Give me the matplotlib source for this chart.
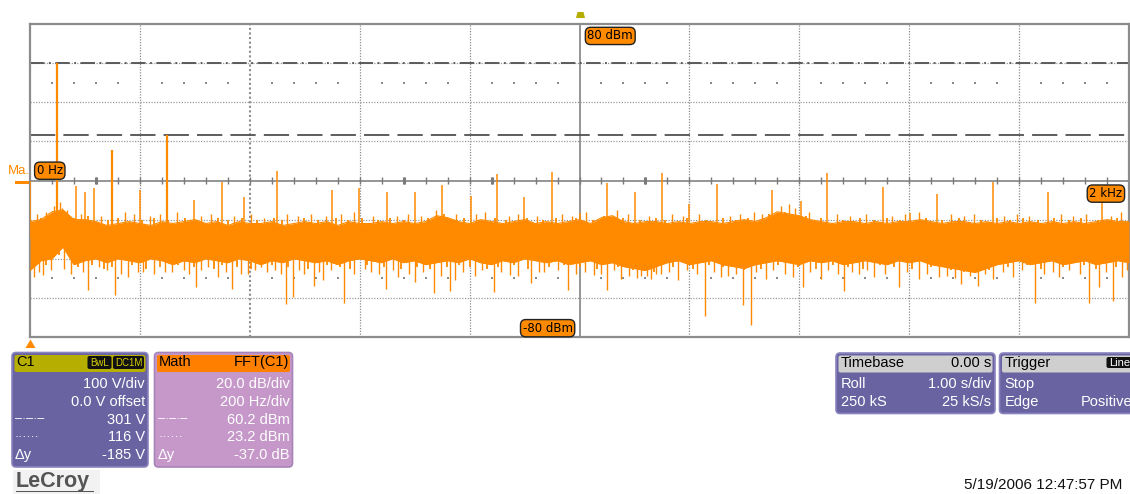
import matplotlib
matplotlib.use("Agg")
import numpy as np
import matplotlib.pyplot as plt
from matplotlib.patches import FancyBboxPatch, Rectangle, Polygon

plt.rcParams["font.family"] = ["Liberation Sans", "DejaVu Sans"]

W, H = 1130, 494
ORANGE = "#ff8a00"

# spectral lines of the FFT(C1) trace: frequency (Hz) and level (dBm)
line_freq = [0, 50, 84, 100, 116, 150, 200, 250, 298, 350, 389, 450, 549, 598,
             650, 700, 750, 802, 850, 899, 950, 1000, 1050, 1101, 1151, 1200,
             1250, 1350, 1403, 1451, 1552, 1601, 1650, 1753, 1852, 1951]
line_dbm = [0, 60.2, -3, -6, -4, 15.6, -5, 23.2, -10, -1, -8.5, 5, -5, -4,
            -6, -6, -2.5, -8, 3.3, -8.5, 4.5, -16.5, -1.5, -6, 3.6, -12,
            -2, -4.7, -10.4, 3.6, -3.5, -16.5, -7, -1, -6, -10]

# noise floor, upper and lower edge every 20 Hz
floor_freq = list(range(0, 2001, 20))
floor_hi = [-21, -20, -16, -15, -20, -20, -21, -23, -22, -21,
            -22, -23, -21, -22, -21, -20, -22, -21, -23, -21,
            -22, -22, -21, -23, -22, -21, -22, -21, -23, -21,
            -22, -22, -21, -22, -21, -22, -21, -18, -19, -21,
            -22, -20, -21, -22, -21, -20, -22, -21, -22, -21,
            -20, -22, -19, -18, -21, -22, -21, -21, -22, -21,
            -22, -21, -21, -22, -21, -20, -21, -19, -16, -17,
            -18, -20, -21, -22, -21, -21, -22, -21, -22, -21,
            -21, -20, -21, -22, -21, -21, -22, -21, -22, -21,
            -22, -21, -22, -21, -22, -21, -22, -21, -20, -21, -21]
floor_lo = [-46, -41, -40, -34, -43, -41, -40, -42, -40, -41,
            -42, -40, -41, -43, -41, -42, -40, -41, -42, -40,
            -41, -43, -41, -42, -40, -41, -42, -41, -43, -41,
            -40, -41, -42, -40, -42, -41, -43, -42, -41, -42,
            -40, -42, -43, -41, -42, -40, -41, -42, -41, -43,
            -42, -41, -43, -42, -44, -45, -46, -44, -42, -41,
            -43, -42, -41, -43, -44, -45, -43, -42, -41, -42,
            -43, -41, -42, -41, -43, -42, -41, -42, -43, -41,
            -42, -41, -43, -44, -45, -46, -47, -45, -43, -42,
            -41, -43, -42, -41, -43, -42, -41, -43, -42, -41, -42]

# deep dips below the floor
dip_freq = [8, 24, 75, 106, 125, 155, 178, 206, 245, 281,
            302, 324, 342, 367, 384, 421, 445, 466, 479, 499,
            516, 533, 572, 609, 648, 670, 700, 736, 764, 773,
            809, 844, 873, 912, 936, 979, 994, 1027, 1050, 1076,
            1112, 1130, 1149, 1179, 1229, 1258, 1297, 1312, 1339, 1388,
            1406, 1439, 1482, 1509, 1536, 1581, 1618, 1655, 1694, 1726,
            1752, 1788, 1829, 1873, 1927, 1946, 1971, 1988]
dip_dbm = [-49.3, -48.4, -47.6, -56.1, -44.2, -58.7, -49.3, -46.7, -46.7, -45.9,
           -54.4, -44.2, -49.3, -55.3, -47.6, -44.2, -45.9, -63.3, -59.5, -47.6,
           -54.1, -51.0, -62.6, -45.0, -55.3, -49.3, -51.8, -57.5, -56.4, -51.0,
           -48.9, -57.0, -48.4, -52.4, -46.7, -55.8, -47.9, -48.4, -55.8, -50.1,
           -48.9, -50.1, -47.6, -51.0, -69.4, -49.3, -63.8, -74.0, -50.1, -49.3,
           -54.4, -50.1, -56.4, -47.6, -49.3, -54.4, -50.1, -49.3, -52.7, -54.1,
           -50.1, -49.3, -62.6, -49.3, -62.6, -54.4, -61.6, -49.3]

# shallower dips
low_freq = [16, 38, 62, 96, 140, 166, 196, 226, 258, 290, 312, 356, 396, 410,
            432, 456, 490, 526, 548, 590, 620, 636, 660, 690, 716, 748, 788,
            822, 858, 888, 926, 960, 1010, 1040, 1062, 1090, 1104, 1122, 1140,
            1162, 1196, 1214, 1244, 1270, 1284, 1322, 1352, 1374, 1420, 1452,
            1470, 1496, 1524, 1556, 1596, 1632, 1668, 1684, 1710, 1738, 1770,
            1806, 1846, 1862, 1890, 1910, 1958, 1996]
low_dbm = [-47, -46, -45, -47, -46, -48, -47, -48, -47, -48, -46, -47, -48, -46,
           -47, -48, -46, -47, -46, -48, -47, -48, -46, -48, -47, -49, -47,
           -46, -47, -49, -47, -46, -47, -48, -46, -49, -50, -49, -48,
           -47, -46, -48, -47, -49, -48, -47, -46, -48, -47, -46,
           -48, -47, -46, -48, -47, -48, -49, -50, -49, -48, -47,
           -46, -48, -47, -46, -48, -47, -46]

# ragged lower edge of the floor
edge_lo_freq = [4, 30, 52, 88, 112, 134, 150, 186, 212, 236, 270, 298, 334,
                350, 376, 402, 440, 470, 506, 540, 564, 582, 614, 644, 676,
                704, 728, 758, 780, 800, 832, 852, 880, 906, 944, 972, 1000,
                1032, 1070, 1098, 1136, 1170, 1206, 1236, 1262, 1300, 1330,
                1362, 1398, 1430, 1462, 1488, 1516, 1546, 1572, 1606, 1640,
                1676, 1700, 1746, 1780, 1814, 1840, 1880, 1918, 1940, 1976]
edge_lo_dbm = [-44, -43, -38, -44, -43, -45, -44, -43, -45, -44, -43, -44, -45,
               -43, -44, -45, -43, -44, -45, -43, -44, -45, -43, -44, -45,
               -44, -45, -44, -43, -44, -45, -44, -43, -45, -44, -43, -44,
               -45, -44, -46, -47, -44, -45, -43, -44, -46, -45,
               -43, -44, -45, -43, -44, -45, -43, -44, -45, -44,
               -46, -47, -46, -44, -43, -45, -44, -43, -45, -44]

# small peaks above the floor
bump_freq = [12, 30, 44, 54, 58, 68, 92, 130, 172, 190, 218, 236, 268, 312,
             330, 372, 402, 426, 468, 488, 512, 538, 566, 590, 624, 668, 688,
             712, 738, 776, 812, 828, 872, 888, 922, 968, 986, 1012, 1068,
             1088, 1126, 1168, 1188, 1218, 1274, 1292, 1318, 1332, 1366, 1382,
             1392, 1418, 1468, 1492, 1522, 1568, 1592, 1618, 1676, 1700, 1718,
             1772, 1796, 1818, 1876, 1898, 1922, 1968, 1986]
bump_dbm = [-17, -16, -13, -11, -14, -15, -17, -18, -16, -17, -18, -17, -16, -18,
            -17, -18, -17, -19, -17, -18, -17, -18, -17, -16, -18, -18, -17,
            -18, -15, -17, -17, -16, -18, -17, -18, -17, -18, -16, -15,
            -17, -18, -17, -18, -17, -18, -17, -16, -17, -13, -12,
            -14, -16, -17, -18, -17, -18, -17, -16, -17, -18, -17,
            -18, -17, -18, -17, -18, -17, -18, -16]

# ragged upper edge of the floor
edge_hi_freq = [20, 80, 106, 142, 160, 204, 226, 252, 282, 304, 342, 360, 386,
                414, 444, 458, 498, 524, 556, 578, 604, 634, 656, 680, 724,
                754, 790, 818, 846, 866, 904, 934, 958, 994, 1024, 1044, 1080,
                1110, 1140, 1156, 1196, 1230, 1262, 1284, 1306, 1344, 1374,
                1412, 1440, 1480, 1510, 1536, 1560, 1584, 1630, 1660, 1690,
                1730, 1760, 1784, 1808, 1834, 1864, 1890, 1912, 1944, 1978]
edge_hi_dbm = [-19, -19, -18, -20, -19, -20, -19, -20, -19, -20, -19, -20, -19,
               -20, -19, -20, -19, -20, -19, -20, -19, -20, -19, -20, -19,
               -17, -19, -20, -19, -20, -19, -20, -19, -19, -20, -18, -19,
               -20, -19, -20, -19, -20, -19, -20, -19, -17, -16,
               -18, -19, -20, -19, -20, -19, -20, -19, -20, -19,
               -20, -19, -20, -19, -20, -19, -20, -19, -20, -19]

cursor_dashdot = 60.2
cursor_dashed = 23.2
minor_ticks = list(range(40, 2000, 40))
heavy_ticks = [120, 680, 840, 1120]

fig = plt.figure(figsize=(W / 100, H / 100), dpi=100)
fig.patch.set_facecolor("white")

ax = fig.add_axes([30 / W, (H - 337) / H, 1099 / W, 313 / H])
ax.set_xlim(0, 2000)
ax.set_ylim(-80, 80)
ax.set_xticks([])
ax.set_yticks([])
for s in ax.spines.values():
    s.set_color("#8c8c8c")
    s.set_linewidth(1.6)

# graticule
for f in range(200, 2000, 200):
    if f == 1000:
        ax.axvline(f, color="#8c8c8c", lw=1.3, zorder=1)
    else:
        ax.axvline(f, color="#8c8c8c", lw=1.5 if f == 400 else 0.9,
                   ls=(0, (1, 1.2)), zorder=1)
for d in (-60, -40, -20, 20, 40, 60):
    ax.axhline(d, color="#9a9a9a", lw=0.9, ls=(0, (1, 1.2)), zorder=1)
ax.axhline(0, color="#8c8c8c", lw=1.3, zorder=1)
ax.vlines(minor_ticks, -1.6, 1.6, color="#7a7a7a", lw=1.0, zorder=1)
ax.vlines(heavy_ticks, -1.8, 1.8, color="#7a7a7a", lw=2.2, zorder=1)
dot_x = [f for f in minor_ticks if f % 200]
for d in (50, -50):
    ax.scatter(dot_x, [d] * len(dot_x), s=1.2, marker="s", color="#8a8a8a",
               lw=0, zorder=1)

# trace
ax.fill_between(floor_freq, floor_lo, floor_hi, color=ORANGE, lw=0, zorder=3)
ax.plot(floor_freq, floor_hi, color=ORANGE, lw=0.8, zorder=3)
ax.plot(floor_freq, floor_lo, color=ORANGE, lw=0.8, zorder=3)
ax.vlines(dip_freq, -32, dip_dbm, color=ORANGE, lw=1.0, zorder=3)
ax.vlines(low_freq, -32, low_dbm, color=ORANGE, lw=1.0, zorder=3)
ax.vlines(edge_lo_freq, -32, edge_lo_dbm, color=ORANGE, lw=1.3, zorder=3)
ax.vlines(bump_freq, -28, bump_dbm, color=ORANGE, lw=1.0, zorder=3)
ax.vlines(edge_hi_freq, -28, edge_hi_dbm, color=ORANGE, lw=1.3, zorder=3)
big = [d > 10 for d in line_dbm]
ax.vlines([f for f, b in zip(line_freq, big) if b], -30,
          [d for d, b in zip(line_dbm, big) if b], color=ORANGE, lw=1.6, zorder=3)
ax.vlines([f for f, b in zip(line_freq, big) if not b], -30,
          [d for d, b in zip(line_dbm, big) if not b], color=ORANGE, lw=1.1,
          zorder=3)

# cursors
ax.axhline(cursor_dashdot, color="#505050", lw=1.3, ls=(0, (8, 2.5, 1, 2.5)),
           zorder=2)
ax.axhline(cursor_dashed, color="#505050", lw=1.3, ls=(0, (14, 4.5)), zorder=2)

lab = dict(fontsize=8.5, color="black", ha="center", va="center", zorder=6,
           clip_on=False, family="DejaVu Sans",
           bbox=dict(boxstyle="round,pad=0.18,rounding_size=0.45", fc=ORANGE,
                     ec="#222222", lw=1.0))
ax.text(1056, 73.9, "80 dBm", **lab)
ax.text(942, -75.5, "-80 dBm", **lab)
ax.text(36, 5.0, "0 Hz", **lab)
ax.text(1958, -6.7, "2 kHz", **lab)

# overlay in pixel coordinates for the panels and markers
ov = fig.add_axes([0, 0, 1, 1], zorder=5)
ov.set_xlim(0, W)
ov.set_ylim(H, 0)
ov.axis("off")

ov.text(19, 170.5, "Ma.", color=ORANGE, fontsize=9.5, ha="center",
        va="center")
ov.add_patch(Rectangle((15, 180.5), 14, 3, color=ORANGE, lw=0))
ov.add_patch(Polygon([[25.5, 348], [30.5, 339.5], [35.5, 348]], closed=True,
                     color=ORANGE, lw=0))
ov.add_patch(Polygon([[576, 18], [577.5, 12], [583.5, 12], [585, 18]],
                     closed=True, color="#b5ad00", lw=0))


def panel(x0, x1, y0, y1, body, head, edge):
    ov.add_patch(FancyBboxPatch((x0, y0), x1 - x0, y1 - y0,
                                boxstyle="round,pad=0,rounding_size=4",
                                fc=body, ec=edge, lw=1.2))
    ov.add_patch(FancyBboxPatch((x0 + 2.5, y0 + 2.5), x1 - x0 - 5, 17,
                                boxstyle="round,pad=0,rounding_size=2",
                                fc=head, ec="none"))


def txt(x, y, s, ha="left", color="white", size=10.5, **kw):
    ov.text(x, y, s, ha=ha, va="center", color=color, fontsize=size, **kw)


PURPLE = "#6a63a2"
LILAC = "#c598c9"
rows = [383.5, 402, 419.5, 437, 455]

panel(12, 148, 352.5, 467, PURPLE, "#b6ae00", "#8a84bf")
txt(16, 362, "C1", color="black")
for x0, x1, s in ((87.5, 111.5, "BwL"), (113, 144, "DC1M")):
    ov.add_patch(FancyBboxPatch((x0, 356), x1 - x0, 13,
                                boxstyle="round,pad=0,rounding_size=2",
                                fc="#111111", ec="none"))
    txt((x0 + x1) / 2, 362.5, s, ha="center", color="#d8d000", size=7)
for y, s in zip(rows, ["100 V/div", "0.0 V offset", "301 V", "116 V",
                       "-185 V"]):
    txt(145, y, s, ha="right")
txt(15, rows[2], "–·–·–", size=9)
txt(15, rows[3], "······", size=9)
txt(15, rows[4], "Δy")

panel(154.5, 292.5, 352.5, 467, LILAC, "#ff8000", "#a684b8")
txt(159, 362, "Math", color="black")
txt(289.5, 362, "FFT(C1)", ha="right", color="black")
for y, s in zip(rows, ["20.0 dB/div", "200 Hz/div", "60.2 dBm", "23.2 dBm",
                       "-37.0 dB"]):
    txt(289.5, y, s, ha="right")
txt(158, rows[2], "–·–·–", size=9)
txt(158, rows[3], "······", size=9)
txt(158, rows[4], "Δy")

panel(836, 995, 353, 413.5, PURPLE, "#cfcfcf", "#8a84bf")
txt(841, 363, "Timebase", color="black")
txt(991.5, 363, "0.00 s", ha="right", color="black")
txt(841, rows[0], "Roll")
txt(991.5, rows[0], "1.00 s/div", ha="right")
txt(841, rows[1], "250 kS")
txt(991.5, rows[1], "25 kS/s", ha="right")

panel(999.5, 1140, 353, 413.5, PURPLE, "#cfcfcf", "#8a84bf")
txt(1004.5, 363, "Trigger", color="black")
ov.add_patch(FancyBboxPatch((1106.5, 357), 30, 11,
                            boxstyle="round,pad=0,rounding_size=2",
                            fc="#111111", ec="none"))
txt(1109, 362.5, "Line", color="white", size=8)
txt(1004.5, rows[0], "Stop")
txt(1004.5, rows[1], "Edge")
txt(1132, rows[1], "Positive", ha="right")

# brand and timestamp
ov.add_patch(Rectangle((13, 470), 87, 24, color="#f2f2f2", lw=0))
txt(16, 481, "LeCroy", color="#555555", size=15.5, fontweight="bold")
ov.add_patch(Rectangle((16, 490.5), 78, 1.8, color="#555555", lw=0))
txt(1122, 485, "5/19/2006 12:47:57 PM", ha="right", color="#111111", size=11)

fig.savefig("out.png", dpi=100, facecolor="white")
